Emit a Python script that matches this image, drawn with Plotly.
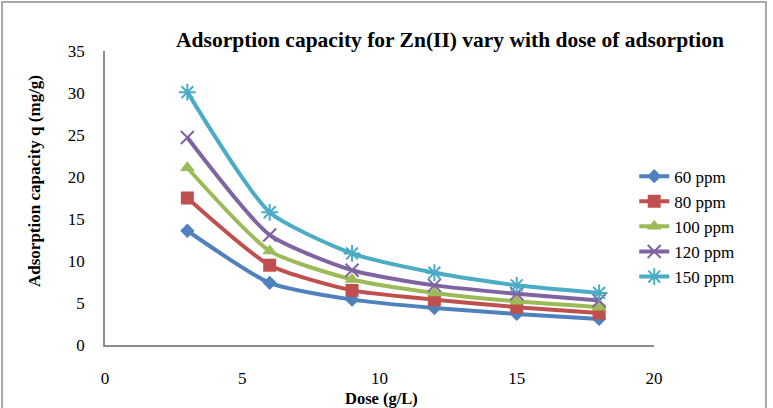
import plotly.graph_objects as go

dose = [3, 6, 9, 12, 15, 18]
series_names = ["60 ppm", "80 ppm", "100 ppm", "120 ppm", "150 ppm"]
q_60 = [13.6, 7.4, 5.4, 4.4, 3.7, 3.1]
q_80 = [17.5, 9.5, 6.5, 5.4, 4.5, 3.8]
q_100 = [21.1, 11.2, 7.8, 6.2, 5.2, 4.5]
q_120 = [24.7, 13.1, 8.9, 7.1, 6.1, 5.3]
q_150 = [30.1, 15.8, 10.9, 8.6, 7.1, 6.2]
x_ticks = [0, 5, 10, 15, 20]
y_ticks = [0, 5, 10, 15, 20, 25, 30, 35]

colors = ["#4F81BD", "#C0504D", "#9BBB59", "#8064A2", "#4BACC6"]
symbols = ["diamond", "square", "triangle-up", "x-thin-open", "asterisk-open"]
sizes = [11, 13, 13, 13, 14]
all_q = [q_60, q_80, q_100, q_120, q_150]

FONT = "Liberation Serif, Times New Roman, serif"

fig = go.Figure()
for name, q, c, s, sz in zip(series_names, all_q, colors, symbols, sizes):
    fig.add_trace(go.Scatter(
        x=dose, y=q, name=name, mode="lines+markers",
        line=dict(color=c, width=4, shape="spline", smoothing=0.6),
        marker=dict(symbol=s, size=sz, color=c, line=dict(color=c, width=2 if "open" in s else 0)),
    ))

fig.update_layout(
    width=773, height=408,
    margin=dict(l=105, r=119, t=51, b=63),
    paper_bgcolor="white", plot_bgcolor="white",
    font=dict(family=FONT, size=17, color="black"),
    title=dict(text="<b>Adsorption capacity for Zn(II) vary with dose of adsorption</b>",
               x=450/773, xanchor="center", xref="container",
               y=1-39/408, yanchor="middle", yref="container",
               font=dict(family=FONT, size=21.5, color="black")),
    showlegend=True,
    legend=dict(x=0.964, y=0.634, xanchor="left", yanchor="top",
                font=dict(family=FONT, size=17), bgcolor="rgba(0,0,0,0)",
                tracegroupgap=0, itemwidth=30),
    xaxis=dict(range=[0, 20], tickvals=x_ticks, ticktext=[str(v) for v in x_ticks],
               showgrid=False, zeroline=False, showline=True, linecolor="#8C8C8C", linewidth=1.5,
               ticks="", ticklabelstandoff=17, tickfont=dict(family=FONT, size=17)),
    yaxis=dict(range=[0, 35], tickvals=y_ticks, ticktext=[str(v) for v in y_ticks],
               showgrid=False, zeroline=False, showline=True, linecolor="#8C8C8C", linewidth=1.5,
               ticks="", ticklabelstandoff=15, tickfont=dict(family=FONT, size=17)),
    annotations=[
        dict(text="<b>Dose (g/L)</b>", xref="paper", yref="paper",
             x=(381-105)/549, y=(345-398)/294, xanchor="center", yanchor="middle", showarrow=False,
             font=dict(family=FONT, size=16.5)),
        dict(text="<b>Adsorption capacity q (mg/g)</b>", xref="paper", yref="paper",
             x=(34-105)/549, y=(345-181)/294, xanchor="center", yanchor="middle", showarrow=False,
             textangle=-90, font=dict(family=FONT, size=17)),
    ],
    shapes=[dict(type="rect", xref="paper", yref="paper",
                 x0=(2-105)/549, x1=(766-105)/549, y0=(345-420)/294, y1=(345-2)/294,
                 line=dict(color="#8C8C8C", width=1.5), fillcolor="rgba(0,0,0,0)", layer="below")],
)

fig.write_html("out.html")
